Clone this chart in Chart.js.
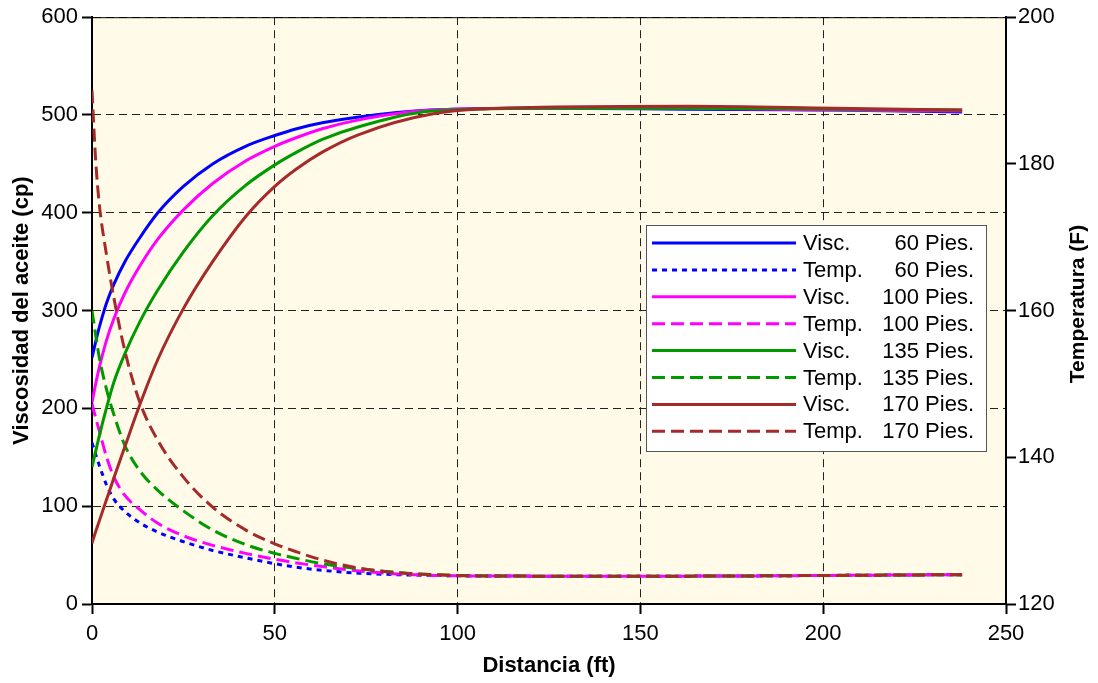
<!DOCTYPE html>
<html>
<head>
<meta charset="utf-8">
<script src="https://cdn.jsdelivr.net/npm/chart.js@4.4.0/dist/chart.umd.min.js"></script>
<style>
  html, body { margin: 0; padding: 0; background: #fff; }
  #wrap { width: 1098px; height: 683px; }
</style>
</head>
<body>
<div id="wrap"><canvas id="grafico" width="1098" height="683"></canvas></div>
<script>
// distancias (ft) y perfiles para cada profundidad
const distancia = [0, 1, 2, 4, 6, 9, 13, 18, 25, 33, 42, 50, 56, 63, 73, 93, 123, 163, 203, 238];
const profundidades = [60, 100, 135, 170];

const visc60  = [252, 268, 283, 308, 327, 350, 374, 400, 427, 450, 468, 479, 486, 492, 498, 505, 507, 506, 505, 503];
const visc100 = [206, 225, 242, 270, 292, 318, 345, 373, 403, 430, 453, 468, 477, 486, 495, 505, 507, 507, 505, 504];
const visc135 = [140, 156, 172, 201, 227, 256, 288, 321, 360, 397, 428, 449, 462, 475, 488, 504, 507, 507, 506, 505];
const visc170 = [62, 74, 85, 107, 129, 161, 203, 250, 302, 350, 396, 427, 445, 462, 480, 501, 508, 509, 507, 505];

const temp60  = [142, 140.4, 138.9, 136.2, 134.3, 132.6, 131.1, 129.8, 128.5, 127.3, 126.3, 125.5, 125.0, 124.6, 124.2, 123.9, 123.8, 123.8, 123.9, 124.0];
const temp100 = [147.3, 145.4, 143.6, 140.0, 137.3, 134.8, 132.9, 131.0, 129.3, 128.0, 126.9, 126.1, 125.6, 125.1, 124.5, 123.9, 123.8, 123.8, 123.9, 124.0];
const temp135 = [160, 156.7, 153.6, 149.2, 145.8, 141.6, 138.2, 135.5, 132.7, 130.1, 128.1, 126.9, 126.2, 125.5, 124.8, 124.0, 123.8, 123.8, 123.9, 124.0];
const temp170 = [190, 180.5, 174.5, 167.5, 161.7, 154.5, 147.6, 142.3, 137.3, 133.2, 130.1, 128.2, 127.1, 126.0, 124.9, 124.0, 123.8, 123.8, 123.9, 124.0];

const xTicks = [0, 50, 100, 150, 200, 250];
const viscTicks = [0, 100, 200, 300, 400, 500, 600];
const tempTicks = [120, 140, 160, 180, 200];

const colores = ['#0000ff', '#ff00ff', '#009900', '#a52a2a'];
const viscs = [visc60, visc100, visc135, visc170];
const temps = [temp60, temp100, temp135, temp170];

const FONT = "'Liberation Sans', Arial, sans-serif";

const pts = vals => vals.map((v, i) => ({ x: distancia[i], y: v }));

const datasets = [];
profundidades.forEach((p, k) => {
  datasets.push({
    tipo: 'Visc.', prof: p,
    data: pts(viscs[k]), yAxisID: 'y',
    borderColor: colores[k], borderWidth: 3, borderDash: [],
    pointRadius: 0, cubicInterpolationMode: 'monotone', fill: false
  });
  datasets.push({
    tipo: 'Temp.', prof: p,
    data: pts(temps[k]), yAxisID: 'y1',
    borderColor: colores[k], borderWidth: 3,
    borderDash: k === 0 ? [5, 5] : [13, 6],
    pointRadius: 0, cubicInterpolationMode: 'monotone', fill: false
  });
});
// later series drawn on top
datasets.forEach((d, i) => { d.order = datasets.length - i; d.label = d.tipo + ' ' + d.prof + ' Pies.'; });

// cream plot background, thin top frame, right axis title and legend box
const decor = {
  id: 'decor',
  beforeDraw(chart) {
    const { ctx, chartArea: a } = chart;
    ctx.save();
    ctx.fillStyle = '#fff';
    ctx.fillRect(0, 0, chart.width, chart.height);
    ctx.fillStyle = '#fffbe8';
    ctx.fillRect(a.left, a.top, a.right - a.left, a.bottom - a.top);
    ctx.restore();
  },
  afterDraw(chart) {
    const { ctx, chartArea: a } = chart;
    ctx.save();
    ctx.strokeStyle = '#000';
    ctx.lineWidth = 1;
    ctx.beginPath();
    ctx.moveTo(a.left, a.top + 0.5);
    ctx.lineTo(a.right, a.top + 0.5);
    ctx.stroke();

    // right axis title, reading bottom to top
    ctx.translate(1078, 304);
    ctx.rotate(-Math.PI / 2);
    ctx.fillStyle = '#000';
    ctx.font = 'bold 21px ' + FONT;
    ctx.textAlign = 'center';
    ctx.textBaseline = 'middle';
    ctx.fillText('Temperatura (F)', 0, 0);
    ctx.restore();

    // legend
    const bx = 646, by = 225, bw = 340, bh = 226, row = 26.9;
    ctx.save();
    ctx.fillStyle = '#fff';
    ctx.fillRect(bx, by, bw, bh);
    ctx.strokeStyle = '#555';
    ctx.lineWidth = 1;
    ctx.strokeRect(bx + 0.5, by + 0.5, bw, bh);
    ctx.font = '22px ' + FONT;
    ctx.textBaseline = 'middle';
    chart.data.datasets.forEach((d, i) => {
      const y = by + 18 + i * row;
      ctx.strokeStyle = d.borderColor;
      ctx.lineWidth = 3;
      ctx.setLineDash(d.borderDash);
      ctx.beginPath();
      ctx.moveTo(bx + 6, y);
      ctx.lineTo(bx + 150, y);
      ctx.stroke();
      ctx.setLineDash([]);
      ctx.fillStyle = '#000';
      ctx.textAlign = 'left';
      ctx.fillText(d.tipo, bx + 157, y + 1);
      ctx.textAlign = 'right';
      ctx.fillText(d.prof + ' Pies.', bx + 328, y + 1);
    });
    ctx.restore();
  }
};

const tickFont = { family: FONT, size: 22 };
const titleFont = { family: FONT, size: 22, weight: 'bold' };

new Chart(document.getElementById('grafico'), {
  type: 'line',
  data: { datasets },
  options: {
    responsive: false,
    animation: false,
    layout: { padding: { top: 15, left: 0, right: 0, bottom: 0 } },
    plugins: { legend: { display: false }, tooltip: { enabled: false } },
    scales: {
      x: {
        type: 'linear', min: 0, max: 250,
        afterBuildTicks: s => { s.ticks = xTicks.map(v => ({ value: v })); },
        afterFit: s => { s.height = 79; },
        ticks: { color: '#000', font: tickFont, padding: 7, maxRotation: 0 },
        grid: { color: '#222', lineWidth: 1, tickLength: 10, tickColor: '#000', tickWidth: 2 },
        border: { display: true, color: '#000', width: 2, dash: [8, 5] },
        title: { display: true, text: 'Distancia (ft)', color: '#000', font: titleFont, padding: { top: 0, bottom: 4 } }
      },
      y: {
        type: 'linear', position: 'left', min: 0, max: 600,
        afterBuildTicks: s => { s.ticks = viscTicks.map(v => ({ value: v })); },
        afterFit: s => { s.width = 92; },
        ticks: { color: '#000', font: tickFont, padding: 4 },
        grid: { color: '#222', lineWidth: 1, tickLength: 10, tickColor: '#000', tickWidth: 2 },
        border: { display: true, color: '#000', width: 2, dash: [8, 5] },
        title: { display: true, text: 'Viscosidad del aceite (cp)', color: '#000', font: titleFont, padding: { top: 9, bottom: 0 } }
      },
      y1: {
        type: 'linear', position: 'right', min: 120, max: 200,
        afterBuildTicks: s => { s.ticks = tempTicks.map(v => ({ value: v })); },
        afterFit: s => { s.width = 92; },
        ticks: { color: '#000', font: tickFont, padding: 2 },
        grid: { drawOnChartArea: false, tickLength: 10, tickColor: '#000', tickWidth: 2 },
        border: { display: true, color: '#000', width: 2 }
      }
    }
  },
  plugins: [decor]
});
</script>
</body>
</html>
